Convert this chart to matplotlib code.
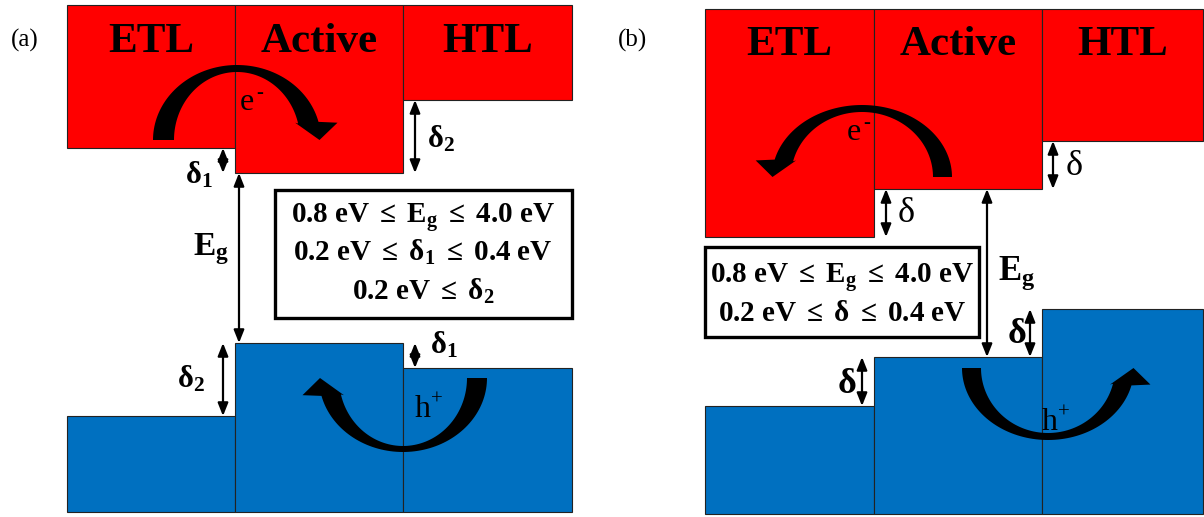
import numpy as np
import matplotlib
matplotlib.use("Agg")
import matplotlib.pyplot as plt
from matplotlib.patches import Rectangle, Polygon

plt.rcParams['font.family'] = ['Liberation Serif', 'DejaVu Serif']
plt.rcParams['mathtext.fontset'] = 'custom'
plt.rcParams['mathtext.rm'] = 'Liberation Serif'
plt.rcParams['mathtext.it'] = 'Liberation Serif:italic'
plt.rcParams['mathtext.bf'] = 'Liberation Serif:bold'

RED = '#FF0000'
BLUE = '#0070C0'

layer_names = ["ETL", "Active", "HTL"]

# panel (a): column edges and band edges (diagram units, y grows downward)
a_x_edges = [67, 235, 403, 572]
a_cb_top = 5
a_cb_bottom = [148, 173, 100]
a_vb_top = [416, 343, 368]
a_vb_floor = 512

# panel (b)
b_x_edges = [705, 874, 1042, 1203]
b_cb_top = 9
b_cb_bottom = [237, 189, 141]
b_vb_top = [406, 357, 309]
b_vb_floor = 514

LE = r"\ \mathbf{\leq}\ "
a_box_lines = [r"$\mathbf{0.8\ eV}" + LE + r"\mathbf{E_g}" + LE + r"\mathbf{4.0\ eV}$",
               r"$\mathbf{0.2\ eV}" + LE + r"\mathbf{\delta_1}" + LE + r"\mathbf{0.4\ eV}$",
               r"$\mathbf{0.2\ eV}" + LE + r"\mathbf{\delta_2}$"]
b_box_lines = [r"$\mathbf{0.8\ eV}" + LE + r"\mathbf{E_g}" + LE + r"\mathbf{4.0\ eV}$",
               r"$\mathbf{0.2\ eV}" + LE + r"\mathbf{\delta}" + LE + r"\mathbf{0.4\ eV}$"]

fig = plt.figure(figsize=(12.04, 5.17), dpi=100)
ax = fig.add_axes([0, 0, 1, 1])
ax.set_xlim(0, 1204)
ax.set_ylim(517, 0)
ax.axis('off')


def draw_bands(x_edges, cb_top, cb_bottom, vb_top, vb_floor):
    for i in range(3):
        x0, x1 = x_edges[i], x_edges[i + 1]
        ax.add_patch(Rectangle((x0, cb_top), x1 - x0, cb_bottom[i] - cb_top,
                               fc=RED, ec='#222222', lw=0.8))
        ax.add_patch(Rectangle((x0, vb_top[i]), x1 - x0, vb_floor - vb_top[i],
                               fc=BLUE, ec='#222222', lw=0.8))


def curved_arrow(cx, cy, sx, sy, a_out, b_out, a_in, b_in):
    # thick tapered arc with a block head, like a PowerPoint curved arrow
    t = np.radians(np.linspace(180, 14, 80))
    outer = np.c_[cx + sx * a_out * np.cos(t), cy - sy * b_out * np.sin(t)]
    inner = np.c_[cx + sx * a_in * np.cos(t), cy - sy * b_in * np.sin(t)]
    ey = (outer[-1, 1] + inner[-1, 1]) / 2
    head = [(outer[-1, 0] + sx * 19, ey),
            (cx + sx * ((a_in + a_out) / 2 + 9), cy),
            (inner[-1, 0] - sx * 3, ey)]
    pts = np.vstack([outer, head, inner[::-1]])
    ax.add_patch(Polygon(pts, closed=True, fc='black', ec='none', zorder=3))


def carrier_label(x, y, base, sign):
    ax.text(x, y, base, fontsize=23, va='baseline', zorder=4)
    ax.text(x + 16, y - 12, sign, fontsize=15, va='baseline', zorder=4)


def span_arrow(x, y0, y1):
    ax.annotate("", xy=(x, y1), xytext=(x, y0),
                arrowprops=dict(arrowstyle="<|-|>,head_length=0.55,head_width=0.22",
                                color='black', lw=1.6, shrinkA=0, shrinkB=0,
                                mutation_scale=14))


draw_bands(a_x_edges, a_cb_top, a_cb_bottom, a_vb_top, a_vb_floor)
draw_bands(b_x_edges, b_cb_top, b_cb_bottom, b_vb_top, b_vb_floor)

for i, name in enumerate(layer_names):
    ax.text((a_x_edges[i] + a_x_edges[i + 1]) / 2, 52, name, ha='center',
            va='baseline', fontsize=31, fontweight='bold')
    ax.text((b_x_edges[i] + b_x_edges[i + 1]) / 2, 55, name, ha='center',
            va='baseline', fontsize=31, fontweight='bold')

ax.text(11, 47, "(a)", fontsize=18, va='baseline')
ax.text(618, 47, "(b)", fontsize=18, va='baseline')

# carrier transfer arrows
curved_arrow(237, 140, 1, 1, 84, 75, 63, 68)
curved_arrow(403, 378, -1, -1, 84, 74, 64, 68)
curved_arrow(862, 177, -1, 1, 90, 72, 71, 65)
curved_arrow(1048, 368, 1, -1, 86, 72, 67, 65)

carrier_label(240, 110, "e", "-")
carrier_label(415, 417, "h", "+")
carrier_label(847, 140, "e", "-")
carrier_label(1042, 430, "h", "+")

# panel (a) offsets
span_arrow(223, a_cb_bottom[0], a_cb_bottom[1])
span_arrow(239, a_cb_bottom[1], a_vb_top[1])
span_arrow(415, a_cb_bottom[2], a_cb_bottom[1])
span_arrow(223, a_vb_top[1], a_vb_top[0])
span_arrow(415, a_vb_top[1], a_vb_top[2])

ax.text(185, 183, r"$\mathbf{\delta_1}$", fontsize=22, va='baseline')
ax.text(193, 255, r"$\mathbf{E_g}$", fontsize=24, va='baseline')
ax.text(427, 147, r"$\mathbf{\delta_2}$", fontsize=22, va='baseline')
ax.text(177, 387, r"$\mathbf{\delta_2}$", fontsize=22, va='baseline')
ax.text(430, 353, r"$\mathbf{\delta_1}$", fontsize=22, va='baseline')

# panel (b) offsets
span_arrow(886, b_cb_bottom[1], b_cb_bottom[0])
span_arrow(987, b_cb_bottom[1], b_vb_top[1])
span_arrow(1053, b_cb_bottom[2], b_cb_bottom[1])
span_arrow(862, b_vb_top[1], b_vb_top[0])
span_arrow(1030, b_vb_top[2], b_vb_top[1])

ax.text(897, 222, r"$\mathrm{\delta}$", fontsize=26, va='baseline')
ax.text(1065, 175, r"$\mathrm{\delta}$", fontsize=26, va='baseline')
ax.text(998, 280, r"$\mathbf{E_g}$", fontsize=25, va='baseline')
ax.text(837, 393, r"$\mathbf{\delta}$", fontsize=26, va='baseline')
ax.text(1007, 343, r"$\mathbf{\delta}$", fontsize=26, va='baseline')

# parameter range boxes
ax.add_patch(Rectangle((275, 190), 297, 128, fc='white', ec='black', lw=2.4, zorder=2))
for line, base in zip(a_box_lines, [223, 261, 300]):
    ax.text(423, base, line, ha='center', va='baseline', fontsize=21, zorder=3)

ax.add_patch(Rectangle((705, 247), 274, 90, fc='white', ec='black', lw=2.4, zorder=2))
for line, base in zip(b_box_lines, [283, 321]):
    ax.text(842, base, line, ha='center', va='baseline', fontsize=21, zorder=3)

fig.savefig("out.png", dpi=100)
